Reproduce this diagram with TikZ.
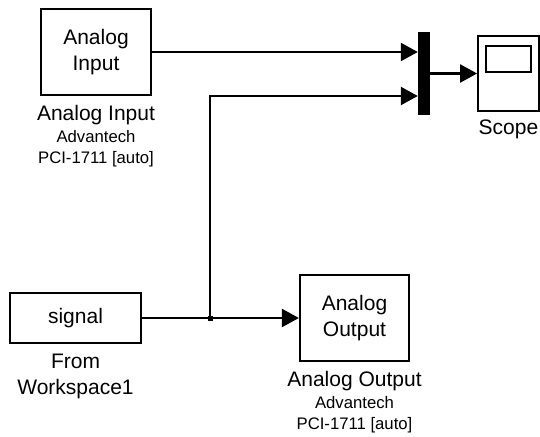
\documentclass[tikz,border=0pt]{standalone}
\usepackage{fontspec}
\setmainfont{Liberation Sans}
\usetikzlibrary{positioning,arrows.meta}

\begin{document}
\begin{tikzpicture}[
    x=1pt, y=-1pt,
    block/.style={%
      draw,
      rectangle,
      line width=2.2pt,
      align=center,
      font=\fontsize{21}{26}\selectfont,
    },
    caption/.style={%
      align=center,
      inner sep=0pt,
      font=\fontsize{16.7}{21.5}\selectfont,
    },
    wire/.style={line width=2.2pt},
    sig/.style={wire, -{Triangle[length=17pt,width=18pt]}},
    dot/.style={fill, rectangle, inner sep=0pt, minimum size=5pt},
  ]
    \useasboundingbox (0,0) rectangle (540,436);

    \node [block, minimum width=110pt, minimum height=86pt] (ain) at (96,52) {Analog\\Input};
    \node [block, minimum width=131pt, minimum height=50pt] (ws) at (75.5,318) {signal};
    \node [block, minimum width=109pt, minimum height=86pt] (aout) at (354.5,318) {Analog\\Output};
    \node [fill, rectangle, inner sep=0pt, minimum width=12pt, minimum height=83pt] (mux) at (424,73.5) {};
    \node [draw, rectangle, line width=1.8pt, minimum width=61pt, minimum height=75pt] (scope) at (508.5,73.5) {};
    \node [draw, rectangle, line width=1.8pt, minimum width=45pt, minimum height=26pt, below=10pt of scope.north] (screen) {};

    \node [caption, below=9pt of ain] (ainlbl) {{\fontsize{21}{22}\selectfont Analog Input}\\Advantech\\PCI-1711 [auto]};
    \node [caption, below=9pt of aout] (aoutlbl) {{\fontsize{21}{22}\selectfont Analog Output}\\Advantech\\PCI-1711 [auto]};
    \node [caption, below=10pt of ws, font=\fontsize{21}{26}\selectfont] (wslbl) {From\\Workspace1};
    \node [caption, below=8pt of scope, font=\fontsize{21}{26}\selectfont] (scopelbl) {Scope};

    \node [dot] (jn) at (210,318) {};
    \coordinate (muxin2) at (mux.west |- 0,96);

    \draw [sig] (ain.east) -- (ain.east -| mux.west);
    \draw [sig] (jn.center) |- (muxin2);
    \draw [sig] (mux.east) -- (scope.west);
    \draw [sig] (ws.east) -- (aout.west);
\end{tikzpicture}
\end{document}
